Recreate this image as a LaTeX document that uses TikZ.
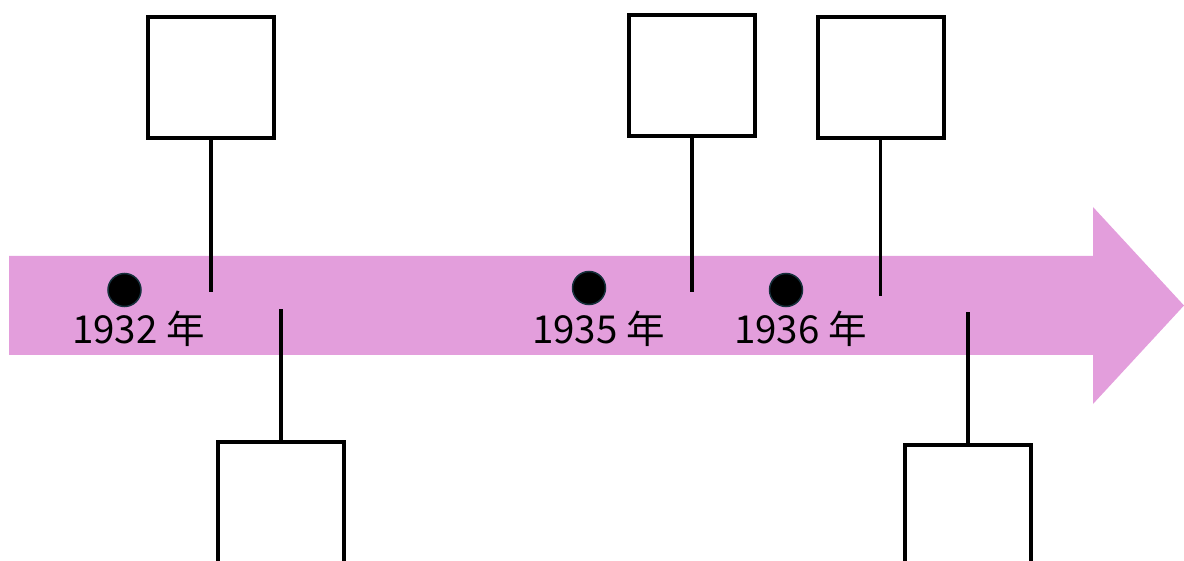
\documentclass[tikz,border=0pt]{standalone}
\usepackage{fontspec}
\setmainfont{Noto Sans CJK SC}
\definecolor{band}{HTML}{E39EDC}
\definecolor{dotline}{HTML}{16303C}
\begin{document}
\begin{tikzpicture}[x=1pt,y=-1pt,
  box/.style={draw=black,line width=4pt,fill=white,minimum width=126pt,minimum height=121pt,inner sep=0pt},
  dot/.style={circle,fill=black,draw=dotline,line width=1.5pt,minimum size=33pt,inner sep=0pt},
  year/.style={font=\fontsize{38.5}{40}\selectfont,inner sep=0pt},
  stem/.style={line width=3.5pt}]
\useasboundingbox (0,0) rectangle (1184,561);
\fill[band] (9,256) -- (1093,256) -- (1093,207) -- (1184,305.5) -- (1093,404) -- (1093,355) -- (9,355) -- cycle;
\node[dot] (d1) at (124.5,290) {};
\node[dot] (d2) at (589,288) {};
\node[dot] (d3) at (786,290) {};
\node[year] (y1) at (138.5,329) {1932 年};
\node[year] (y2) at (598.5,329) {1935 年};
\node[year] (y3) at (800.5,329) {1936 年};
\node[box] (t1) at (211,78) {};
\node[box] (t2) at (692,76) {};
\node[box] (t3) at (880.5,78) {};
\node[box,anchor=north] (b1) at (281,440) {};
\node[box,anchor=north] (b2) at (968,443) {};
\coordinate (e1) at (211,292);
\coordinate (e2) at (692,292);
\coordinate (e3) at (880.5,296);
\coordinate (f1) at (281,309);
\coordinate (f2) at (968,312);
\draw[stem] (t1.south) -- (e1);
\draw[stem] (t2.south) -- (e2);
\draw[stem] (t3.south) -- (e3);
\draw[stem] (b1.north) -- (f1);
\draw[stem] (b2.north) -- (f2);
\end{tikzpicture}
\end{document}
